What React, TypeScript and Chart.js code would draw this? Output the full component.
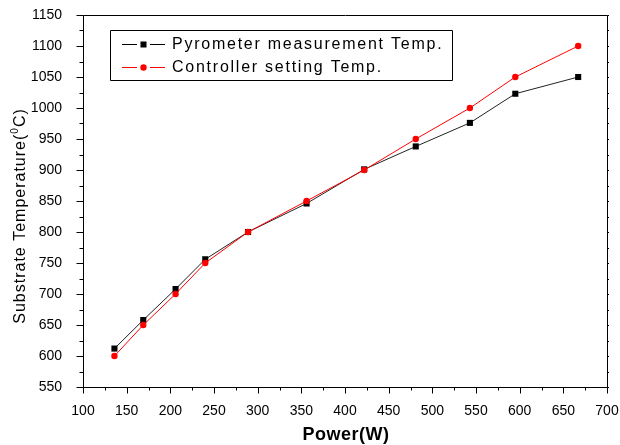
import React, { useEffect, useRef } from "react";
import { Chart, registerables } from "chart.js";

Chart.register(...registerables);

const powerW = [136, 169, 206, 240, 289, 356, 422, 481, 543, 595, 667];
const pyrometerTemp = [612, 658, 708, 756, 800, 846, 901, 938, 976, 1023, 1050];
const controllerTemp = [600, 650, 700, 750, 800, 850, 900, 950, 1000, 1050, 1100];
const seriesNames = ["Pyrometer measurement Temp.", "Controller setting Temp."];
const xRange = [100, 700];
const yRange = [550, 1150];
const xTitle = "Power(W)";
const yTitleParts = ["Substrate Temperature(", "0", "C)"];

const FONT = "'Liberation Sans', Arial, sans-serif";

const framePlugin = {
  id: "frame",
  afterDraw(chart: any) {
    const { ctx, chartArea: a, scales } = chart;
    const xs = scales.x;
    const ys = scales.y;
    ctx.save();
    ctx.strokeStyle = "#000";
    ctx.lineWidth = 1;
    // border
    ctx.beginPath();
    ctx.rect(Math.round(a.left) + 0.5, Math.round(a.top) + 0.5, Math.round(a.right - a.left), Math.round(a.bottom - a.top));
    ctx.stroke();
    // x ticks
    ctx.beginPath();
    for (let v = xRange[0]; v <= xRange[1]; v += 25) {
      const px = Math.round(xs.getPixelForValue(v)) + 0.5;
      const major = v % 50 === 0;
      const b = Math.round(a.bottom) + 0.5;
      ctx.moveTo(px, b);
      ctx.lineTo(px, b + (major ? 6 : 3));
    }
    // y ticks
    for (let v = yRange[0]; v <= yRange[1]; v += 25) {
      const py = Math.round(ys.getPixelForValue(v)) + 0.5;
      const major = v % 50 === 0;
      const l = Math.round(a.left) + 0.5;
      ctx.moveTo(l, py);
      ctx.lineTo(l - (major ? 7 : 4), py);
      const r = Math.round(a.right) + 0.5;
      ctx.moveTo(r, py);
      ctx.lineTo(r + 1.5, py);
    }
    ctx.stroke();

    // legend
    const lx0 = 110.5, ly0 = 30.5, lw = 342, lh = 50;
    ctx.beginPath();
    ctx.rect(lx0, ly0, lw, lh);
    ctx.strokeStyle = "#000";
    ctx.stroke();
    const rows = [
      { y: 44, color: "#000", style: "rect" },
      { y: 67, color: "#ff0000", style: "circle" },
    ];
    rows.forEach((row, i) => {
      ctx.strokeStyle = row.color;
      ctx.beginPath();
      ctx.moveTo(122, row.y + 0.5);
      ctx.lineTo(137, row.y + 0.5);
      ctx.moveTo(150, row.y + 0.5);
      ctx.lineTo(165, row.y + 0.5);
      ctx.stroke();
      ctx.fillStyle = row.color;
      if (row.style === "rect") {
        ctx.fillRect(140.5, row.y - 2.5, 6, 6);
      } else {
        ctx.beginPath();
        ctx.arc(143.5, row.y + 0.5, 3.2, 0, Math.PI * 2);
        ctx.fill();
      }
      ctx.fillStyle = "#000";
      ctx.font = `16px ${FONT}`;
      (ctx as any).letterSpacing = "1.75px";
      ctx.textAlign = "left";
      ctx.textBaseline = "middle";
      ctx.fillText(seriesNames[i], 172, row.y + 1);
    });

    // x title
    (ctx as any).letterSpacing = "0.5px";
    ctx.font = `bold 18px ${FONT}`;
    ctx.textAlign = "center";
    ctx.textBaseline = "alphabetic";
    ctx.fillStyle = "#000";
    ctx.fillText(xTitle, (a.left + a.right) / 2 + 1, 440);

    // y title with superscript
    (ctx as any).letterSpacing = "1px";
    const mainFont = `16px ${FONT}`;
    const supFont = `10px ${FONT}`;
    ctx.font = mainFont;
    const w1 = ctx.measureText(yTitleParts[0]).width;
    const w3 = ctx.measureText(yTitleParts[2]).width;
    ctx.font = supFont;
    const w2 = ctx.measureText(yTitleParts[1]).width;
    const total = w1 + w2 + w3;
    ctx.translate(25, 216);
    ctx.rotate(-Math.PI / 2);
    ctx.textAlign = "left";
    let x = -total / 2;
    ctx.font = mainFont;
    ctx.fillText(yTitleParts[0], x, 0);
    x += w1;
    ctx.font = supFont;
    ctx.fillText(yTitleParts[1], x, -7);
    x += w2;
    ctx.font = mainFont;
    ctx.fillText(yTitleParts[2], x, 0);
    ctx.restore();
  },
};

export default function App() {
  const ref = useRef<HTMLCanvasElement | null>(null);
  useEffect(() => {
    document.body.style.margin = "0";
    const canvas = ref.current;
    if (!canvas) return;
    const chart = new Chart(canvas, {
      type: "line",
      data: {
        datasets: [
          {
            label: seriesNames[1],
            data: powerW.map((x, i) => ({ x, y: controllerTemp[i] })),
            borderColor: "#ff0000",
            backgroundColor: "#ff0000",
            borderWidth: 1,
            pointStyle: "circle",
            pointRadius: 3.2,
            pointBorderWidth: 0,
            order: 0,
          },
          {
            label: seriesNames[0],
            data: powerW.map((x, i) => ({ x, y: pyrometerTemp[i] })),
            borderColor: "#222",
            backgroundColor: "#000",
            borderWidth: 1,
            pointStyle: "rect",
            pointRadius: 4.3,
            pointBorderWidth: 0,
            order: 1,
          },
        ],
      },
      options: {
        responsive: false,
        animation: false,
        layout: { padding: { top: 15, right: 13, left: 0, bottom: 0 } },
        plugins: { legend: { display: false }, tooltip: { enabled: false } },
        scales: {
          x: {
            type: "linear",
            min: xRange[0],
            max: xRange[1],
            grid: { display: false },
            border: { display: false },
            ticks: { stepSize: 50, color: "#000", font: { family: FONT, size: 14 }, padding: 8, maxRotation: 0, autoSkip: false, callback: (v: any) => String(v) },
            afterFit: (s: any) => { s.height = 58; s.paddingLeft = 0; s.paddingRight = 0; },
          },
          y: {
            type: "linear",
            min: yRange[0],
            max: yRange[1],
            grid: { display: false },
            border: { display: false },
            ticks: { stepSize: 50, color: "#000", font: { family: FONT, size: 14 }, padding: 13, autoSkip: false, callback: (v: any) => String(v) },
            afterFit: (s: any) => { s.width = 83; s.paddingTop = 0; s.paddingBottom = 0; },
          },
        },
      },
      plugins: [framePlugin],
    } as any);
    return () => chart.destroy();
  }, []);
  return (
    <div style={{ position: "relative", width: 620, height: 445 }}>
      <canvas ref={ref} width={620} height={445} />
    </div>
  );
}
